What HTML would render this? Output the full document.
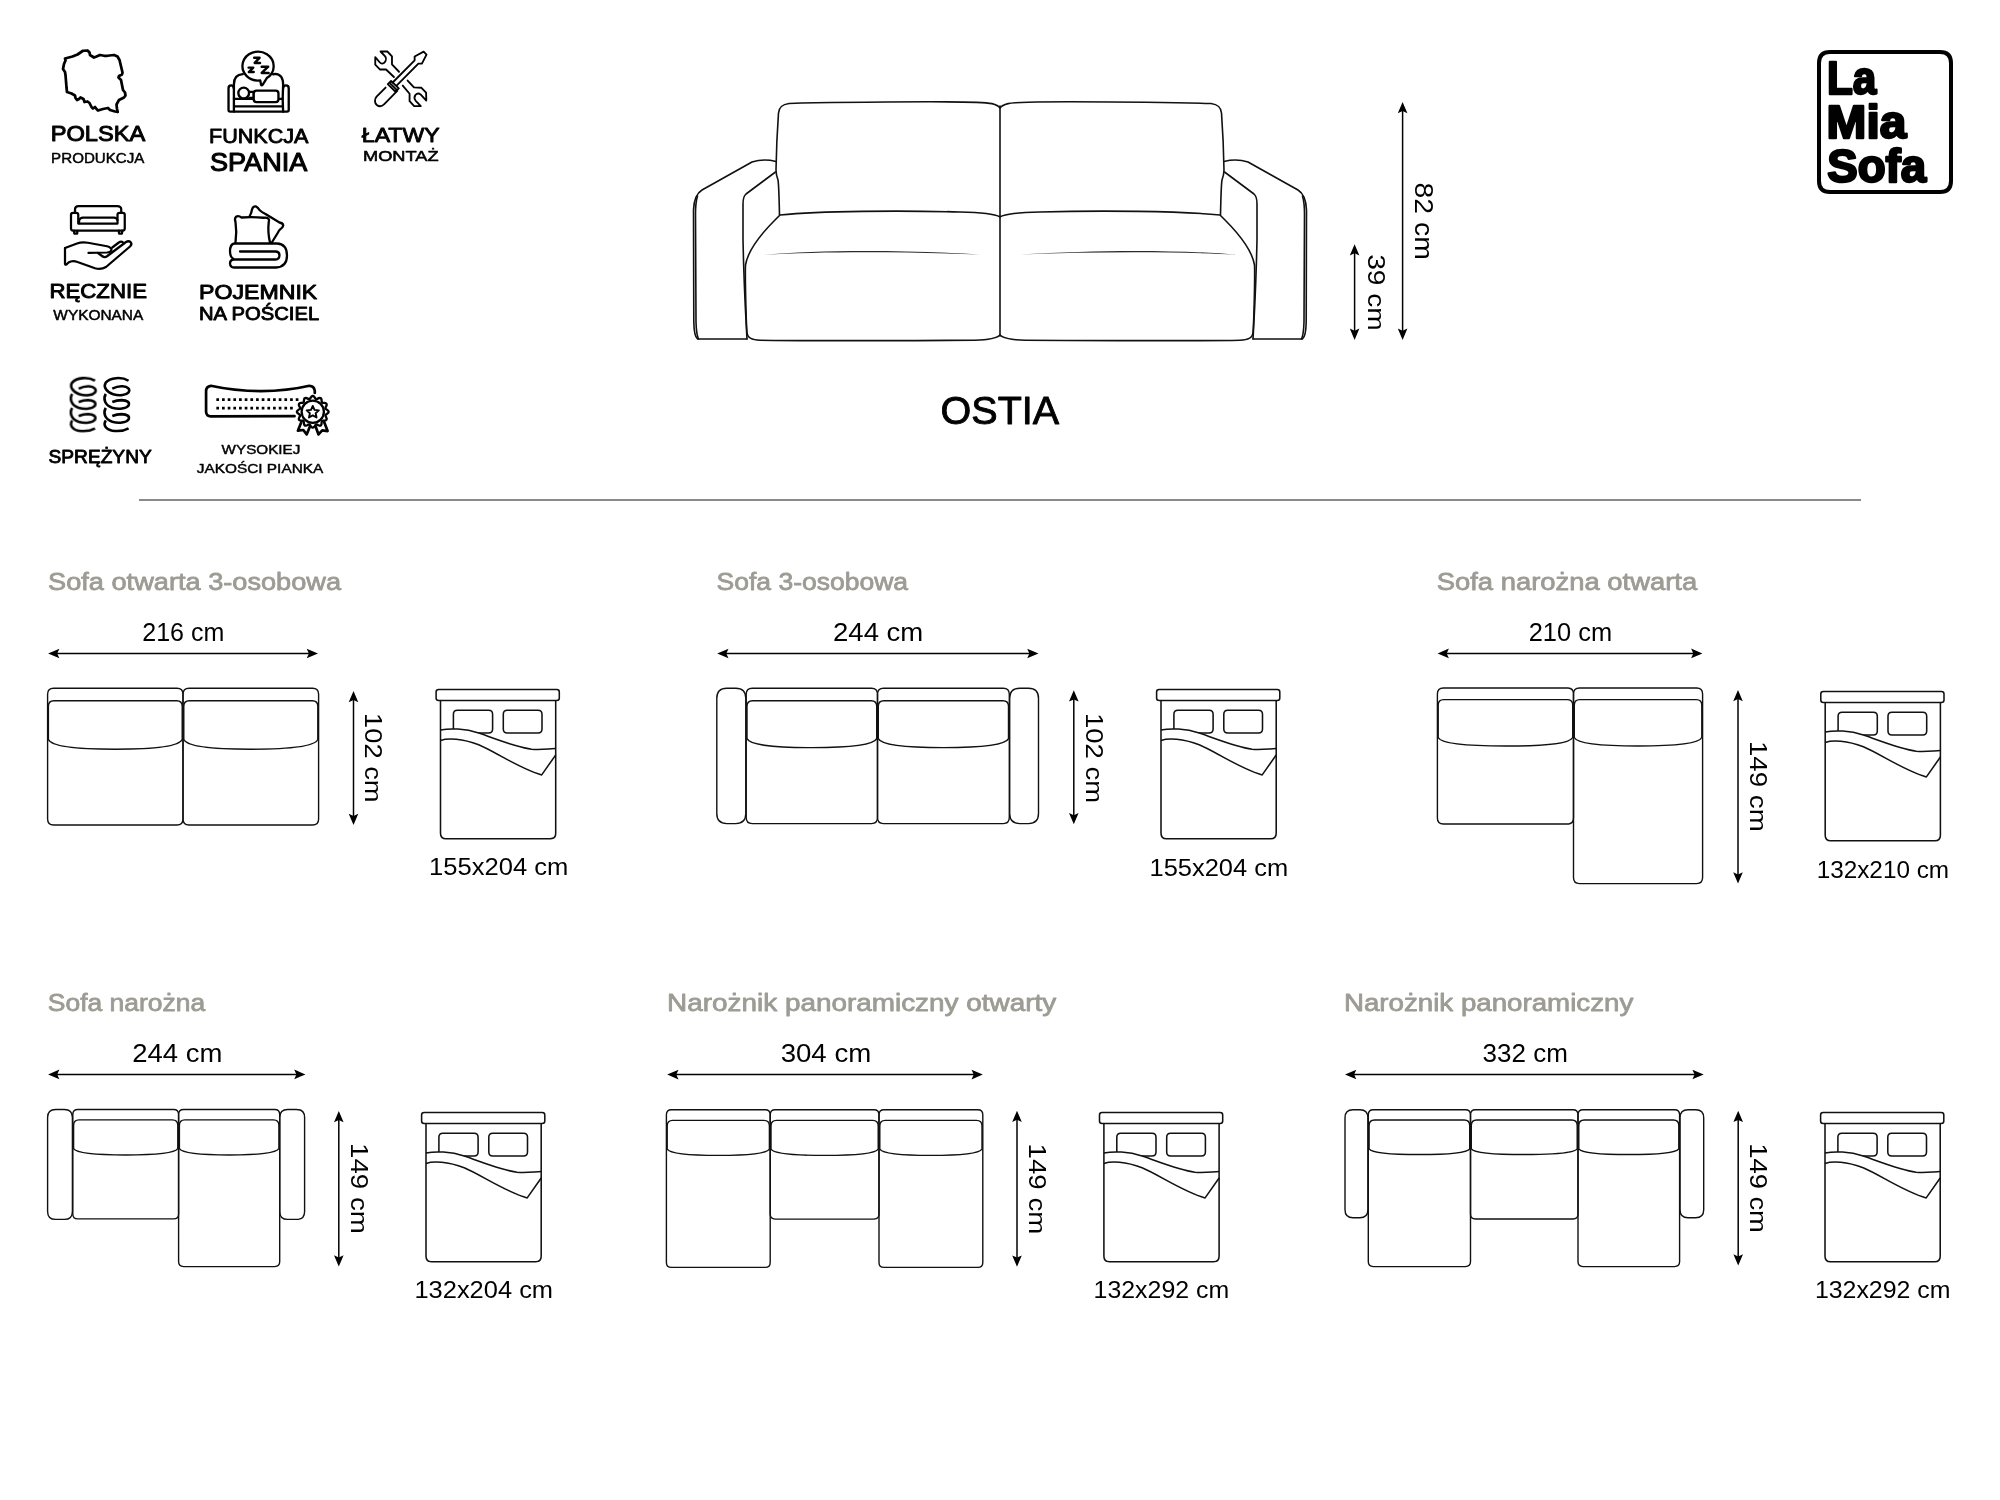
<!DOCTYPE html>
<html><head><meta charset="utf-8"><style>
html,body{margin:0;padding:0;background:#fff;width:2000px;height:1500px;overflow:hidden}
svg{display:block}
text{-webkit-font-smoothing:antialiased}
.g{will-change:transform}
text{font-family:"Liberation Sans",sans-serif}
</style></head><body>
<svg width="2000" height="1500" viewBox="0 0 2000 1500">
<rect width="2000" height="1500" fill="#fff"/>
<g style="opacity:0.999">
<line x1="139" y1="500" x2="1861" y2="500" stroke="#8a8a8a" stroke-width="2"/>
<text x="48.07" y="589.80" font-size="24.709" font-weight="normal" fill="#9c9c94" stroke="#9c9c94" stroke-width="0.80" stroke-linejoin="round" textLength="293.03" lengthAdjust="spacingAndGlyphs">Sofa otwarta 3-osobowa</text>
<text x="716.60" y="590.00" font-size="24.709" font-weight="normal" fill="#9c9c94" stroke="#9c9c94" stroke-width="0.80" stroke-linejoin="round" textLength="191.50" lengthAdjust="spacingAndGlyphs">Sofa 3-osobowa</text>
<text x="1436.66" y="590.00" font-size="24.709" font-weight="normal" fill="#9c9c94" stroke="#9c9c94" stroke-width="0.80" stroke-linejoin="round" textLength="260.54" lengthAdjust="spacingAndGlyphs">Sofa narożna otwarta</text>
<text x="47.80" y="1011.40" font-size="24.709" font-weight="normal" fill="#9c9c94" stroke="#9c9c94" stroke-width="0.80" stroke-linejoin="round" textLength="157.30" lengthAdjust="spacingAndGlyphs">Sofa narożna</text>
<text x="667.11" y="1011.40" font-size="24.709" font-weight="normal" fill="#9c9c94" stroke="#9c9c94" stroke-width="0.80" stroke-linejoin="round" textLength="389.04" lengthAdjust="spacingAndGlyphs">Narożnik panoramiczny otwarty</text>
<text x="1343.93" y="1011.00" font-size="24.709" font-weight="normal" fill="#9c9c94" stroke="#9c9c94" stroke-width="0.80" stroke-linejoin="round" textLength="289.33" lengthAdjust="spacingAndGlyphs">Narożnik panoramiczny</text>
<text x="142.24" y="641.40" font-size="25.872" font-weight="normal" fill="#000" textLength="82.11" lengthAdjust="spacingAndGlyphs">216 cm</text>
<text x="833.02" y="641.20" font-size="25.872" font-weight="normal" fill="#000" textLength="90.30" lengthAdjust="spacingAndGlyphs">244 cm</text>
<text x="1528.72" y="641.40" font-size="25.872" font-weight="normal" fill="#000" textLength="83.35" lengthAdjust="spacingAndGlyphs">210 cm</text>
<text x="132.22" y="1061.90" font-size="25.872" font-weight="normal" fill="#000" textLength="90.09" lengthAdjust="spacingAndGlyphs">244 cm</text>
<text x="780.65" y="1061.70" font-size="25.872" font-weight="normal" fill="#000" textLength="90.57" lengthAdjust="spacingAndGlyphs">304 cm</text>
<text x="1482.61" y="1061.90" font-size="25.872" font-weight="normal" fill="#000" textLength="85.31" lengthAdjust="spacingAndGlyphs">332 cm</text>
<line x1="54.1" y1="653.5" x2="312" y2="653.5" stroke="#000" stroke-width="1.5"/>
<path d="M48.1,653.5 L59.4,648.7 L57.2,653.5 L59.4,658.3 Z M318,653.5 L306.7,658.3 L308.9,653.5 L306.7,648.7 Z" fill="#000"/>
<line x1="723.2" y1="653.5" x2="1032.5" y2="653.5" stroke="#000" stroke-width="1.5"/>
<path d="M717.2,653.5 L728.5,648.7 L726.3,653.5 L728.5,658.3 Z M1038.5,653.5 L1027.2,658.3 L1029.4,653.5 L1027.2,648.7 Z" fill="#000"/>
<line x1="1443.6" y1="653.4" x2="1696.4" y2="653.4" stroke="#000" stroke-width="1.5"/>
<path d="M1437.6,653.4 L1448.9,648.6 L1446.7,653.4 L1448.9,658.2 Z M1702.4,653.4 L1691.1,658.2 L1693.3,653.4 L1691.1,648.6 Z" fill="#000"/>
<line x1="54.1" y1="1074.4" x2="299.5" y2="1074.4" stroke="#000" stroke-width="1.5"/>
<path d="M48.1,1074.4 L59.4,1069.6 L57.2,1074.4 L59.4,1079.2 Z M305.5,1074.4 L294.2,1079.2 L296.4,1074.4 L294.2,1069.6 Z" fill="#000"/>
<line x1="673.2" y1="1074.6" x2="976.8" y2="1074.6" stroke="#000" stroke-width="1.5"/>
<path d="M667.2,1074.6 L678.5,1069.8 L676.3,1074.6 L678.5,1079.4 Z M982.8,1074.6 L971.5,1079.4 L973.7,1074.6 L971.5,1069.8 Z" fill="#000"/>
<line x1="1351" y1="1074.5" x2="1697.7" y2="1074.5" stroke="#000" stroke-width="1.5"/>
<path d="M1345,1074.5 L1356.3,1069.7 L1354.1,1074.5 L1356.3,1079.3 Z M1703.7,1074.5 L1692.4,1079.3 L1694.6,1074.5 L1692.4,1069.7 Z" fill="#000"/>
<line x1="353.5" y1="696.9" x2="353.5" y2="819" stroke="#000" stroke-width="1.5"/>
<path d="M353.5,690.9 L358.3,702.2 L353.5,700 L348.7,702.2 Z M353.5,825 L348.7,813.7 L353.5,815.9 L358.3,813.7 Z" fill="#000"/>
<line x1="1073.8" y1="696.3" x2="1073.8" y2="818.3" stroke="#000" stroke-width="1.5"/>
<path d="M1073.8,690.3 L1078.6,701.6 L1073.8,699.4 L1069,701.6 Z M1073.8,824.3 L1069,813 L1073.8,815.2 L1078.6,813 Z" fill="#000"/>
<line x1="1738" y1="696" x2="1738" y2="877.6" stroke="#000" stroke-width="1.5"/>
<path d="M1738,690 L1742.8,701.3 L1738,699.1 L1733.2,701.3 Z M1738,883.6 L1733.2,872.3 L1738,874.5 L1742.8,872.3 Z" fill="#000"/>
<line x1="338.8" y1="1116.9" x2="338.8" y2="1260.6" stroke="#000" stroke-width="1.5"/>
<path d="M338.8,1110.9 L343.6,1122.2 L338.8,1120 L334,1122.2 Z M338.8,1266.6 L334,1255.3 L338.8,1257.5 L343.6,1255.3 Z" fill="#000"/>
<line x1="1017" y1="1116.7" x2="1017" y2="1260.7" stroke="#000" stroke-width="1.5"/>
<path d="M1017,1110.7 L1021.8,1122 L1017,1119.8 L1012.2,1122 Z M1017,1266.7 L1012.2,1255.4 L1017,1257.6 L1021.8,1255.4 Z" fill="#000"/>
<line x1="1738.2" y1="1116.8" x2="1738.2" y2="1259.6" stroke="#000" stroke-width="1.5"/>
<path d="M1738.2,1110.8 L1743,1122.1 L1738.2,1119.9 L1733.4,1122.1 Z M1738.2,1265.6 L1733.4,1254.3 L1738.2,1256.5 L1743,1254.3 Z" fill="#000"/>
<text transform="translate(364.90,715.20) rotate(90)" x="-2.08" y="0" font-size="24.709" font-weight="normal" fill="#000" textLength="89.37" lengthAdjust="spacingAndGlyphs">102 cm</text>
<text transform="translate(1086.00,715.00) rotate(90)" x="-2.09" y="0" font-size="24.709" font-weight="normal" fill="#000" textLength="90.10" lengthAdjust="spacingAndGlyphs">102 cm</text>
<text transform="translate(1750.00,743.00) rotate(90)" x="-2.11" y="0" font-size="24.709" font-weight="normal" fill="#000" textLength="90.94" lengthAdjust="spacingAndGlyphs">149 cm</text>
<text transform="translate(350.50,1145.10) rotate(90)" x="-2.11" y="0" font-size="24.709" font-weight="normal" fill="#000" textLength="90.84" lengthAdjust="spacingAndGlyphs">149 cm</text>
<text transform="translate(1029.00,1145.60) rotate(90)" x="-2.11" y="0" font-size="24.709" font-weight="normal" fill="#000" textLength="90.84" lengthAdjust="spacingAndGlyphs">149 cm</text>
<text transform="translate(1749.70,1145.30) rotate(90)" x="-2.08" y="0" font-size="24.709" font-weight="normal" fill="#000" textLength="89.69" lengthAdjust="spacingAndGlyphs">149 cm</text>
<path d="M53.6,688.2 L177,688.2 Q183,688.2 183,694.2 L183,819 Q183,825 177,825 L53.6,825 Q47.6,825 47.6,819 L47.6,694.2 Q47.6,688.2 53.6,688.2 Z" fill="none" stroke="#111" stroke-width="1.4"/>
<path d="M48.4,739.5 L48.4,706.3 Q48.4,700.8 53.9,700.8 L176.7,700.8 Q182.2,700.8 182.2,706.3 L182.2,739.5 C179.2,746.77 155.44,749.2 115.3,749.2 C75.16,749.2 51.4,746.77 48.4,739.5 Z" fill="none" stroke="#111" stroke-width="1.4"/>
<path d="M189,688.2 L312.6,688.2 Q318.6,688.2 318.6,694.2 L318.6,819 Q318.6,825 312.6,825 L189,825 Q183,825 183,819 L183,694.2 Q183,688.2 189,688.2 Z" fill="none" stroke="#111" stroke-width="1.4"/>
<path d="M183.8,739.5 L183.8,706.3 Q183.8,700.8 189.3,700.8 L312.3,700.8 Q317.8,700.8 317.8,706.3 L317.8,739.5 C314.8,746.77 291,749.2 250.8,749.2 C210.6,749.2 186.8,746.77 183.8,739.5 Z" fill="none" stroke="#111" stroke-width="1.4"/>
<path d="M726.8,688.2 L735.8,688.2 Q745.8,688.2 745.8,698.2 L745.8,813.6 Q745.8,823.6 735.8,823.6 L726.8,823.6 Q716.8,823.6 716.8,813.6 L716.8,698.2 Q716.8,688.2 726.8,688.2 Z" fill="none" stroke="#111" stroke-width="1.4"/>
<path d="M752.2,688.2 L871.5,688.2 Q877.5,688.2 877.5,694.2 L877.5,817.6 Q877.5,823.6 871.5,823.6 L752.2,823.6 Q746.2,823.6 746.2,817.6 L746.2,694.2 Q746.2,688.2 752.2,688.2 Z" fill="none" stroke="#111" stroke-width="1.4"/>
<path d="M747,738.6 L747,706.3 Q747,700.8 752.5,700.8 L871.2,700.8 Q876.7,700.8 876.7,706.3 L876.7,738.6 C873.7,745.35 850.76,747.6 811.85,747.6 C772.94,747.6 750,745.35 747,738.6 Z" fill="none" stroke="#111" stroke-width="1.4"/>
<path d="M883.5,688.2 L1003.3,688.2 Q1009.3,688.2 1009.3,694.2 L1009.3,817.6 Q1009.3,823.6 1003.3,823.6 L883.5,823.6 Q877.5,823.6 877.5,817.6 L877.5,694.2 Q877.5,688.2 883.5,688.2 Z" fill="none" stroke="#111" stroke-width="1.4"/>
<path d="M878.3,738.6 L878.3,706.3 Q878.3,700.8 883.8,700.8 L1003,700.8 Q1008.5,700.8 1008.5,706.3 L1008.5,738.6 C1005.5,745.35 982.46,747.6 943.4,747.6 C904.34,747.6 881.3,745.35 878.3,738.6 Z" fill="none" stroke="#111" stroke-width="1.4"/>
<path d="M1019.7,688.2 L1028.5,688.2 Q1038.5,688.2 1038.5,698.2 L1038.5,813.6 Q1038.5,823.6 1028.5,823.6 L1019.7,823.6 Q1009.7,823.6 1009.7,813.6 L1009.7,698.2 Q1009.7,688.2 1019.7,688.2 Z" fill="none" stroke="#111" stroke-width="1.4"/>
<path d="M1443.4,688 L1567.5,688 Q1573.5,688 1573.5,694 L1573.5,818 Q1573.5,824 1567.5,824 L1443.4,824 Q1437.4,824 1437.4,818 L1437.4,694 Q1437.4,688 1443.4,688 Z" fill="none" stroke="#111" stroke-width="1.4"/>
<path d="M1438.2,737.5 L1438.2,705.1 Q1438.2,699.6 1443.7,699.6 L1567.2,699.6 Q1572.7,699.6 1572.7,705.1 L1572.7,737.5 C1569.7,743.88 1545.8,746 1505.45,746 C1465.1,746 1441.2,743.88 1438.2,737.5 Z" fill="none" stroke="#111" stroke-width="1.4"/>
<path d="M1579.5,688 L1696.6,688 Q1702.6,688 1702.6,694 L1702.6,877.6 Q1702.6,883.6 1696.6,883.6 L1579.5,883.6 Q1573.5,883.6 1573.5,877.6 L1573.5,694 Q1573.5,688 1579.5,688 Z" fill="none" stroke="#111" stroke-width="1.4"/>
<path d="M1574.3,737.5 L1574.3,705.1 Q1574.3,699.6 1579.8,699.6 L1696.3,699.6 Q1701.8,699.6 1701.8,705.1 L1701.8,737.5 C1698.8,743.88 1676.3,746 1638.05,746 C1599.8,746 1577.3,743.88 1574.3,737.5 Z" fill="none" stroke="#111" stroke-width="1.4"/>
<path d="M55.6,1109.5 L64.4,1109.5 Q72.4,1109.5 72.4,1117.5 L72.4,1211.4 Q72.4,1219.4 64.4,1219.4 L55.6,1219.4 Q47.6,1219.4 47.6,1211.4 L47.6,1117.5 Q47.6,1109.5 55.6,1109.5 Z" fill="none" stroke="#111" stroke-width="1.4"/>
<path d="M77.8,1109.5 L173.6,1109.5 Q178.6,1109.5 178.6,1114.5 L178.6,1213.9 Q178.6,1218.9 173.6,1218.9 L77.8,1218.9 Q72.8,1218.9 72.8,1213.9 L72.8,1114.5 Q72.8,1109.5 77.8,1109.5 Z" fill="none" stroke="#111" stroke-width="1.4"/>
<path d="M73.6,1148.7 L73.6,1125.4 Q73.6,1119.9 79.1,1119.9 L172.3,1119.9 Q177.8,1119.9 177.8,1125.4 L177.8,1148.7 C174.8,1153.42 156.96,1155 125.7,1155 C94.44,1155 76.6,1153.42 73.6,1148.7 Z" fill="none" stroke="#111" stroke-width="1.4"/>
<path d="M183.6,1109.5 L274.7,1109.5 Q279.7,1109.5 279.7,1114.5 L279.7,1261.6 Q279.7,1266.6 274.7,1266.6 L183.6,1266.6 Q178.6,1266.6 178.6,1261.6 L178.6,1114.5 Q178.6,1109.5 183.6,1109.5 Z" fill="none" stroke="#111" stroke-width="1.4"/>
<path d="M179.4,1148.7 L179.4,1125.4 Q179.4,1119.9 184.9,1119.9 L273.4,1119.9 Q278.9,1119.9 278.9,1125.4 L278.9,1148.7 C275.9,1153.42 259,1155 229.15,1155 C199.3,1155 182.4,1153.42 179.4,1148.7 Z" fill="none" stroke="#111" stroke-width="1.4"/>
<path d="M287.7,1109.5 L296.6,1109.5 Q304.6,1109.5 304.6,1117.5 L304.6,1211.4 Q304.6,1219.4 296.6,1219.4 L287.7,1219.4 Q279.7,1219.4 279.7,1211.4 L279.7,1117.5 Q279.7,1109.5 287.7,1109.5 Z" fill="none" stroke="#111" stroke-width="1.4"/>
<path d="M671.4,1109.7 L765.2,1109.7 Q770.2,1109.7 770.2,1114.7 L770.2,1262.4 Q770.2,1267.4 765.2,1267.4 L671.4,1267.4 Q666.4,1267.4 666.4,1262.4 L666.4,1114.7 Q666.4,1109.7 671.4,1109.7 Z" fill="none" stroke="#111" stroke-width="1.4"/>
<path d="M667.2,1149.1 L667.2,1125.9 Q667.2,1120.4 672.7,1120.4 L763.9,1120.4 Q769.4,1120.4 769.4,1125.9 L769.4,1149.1 C766.4,1153.83 748.96,1155.4 718.3,1155.4 C687.64,1155.4 670.2,1153.83 667.2,1149.1 Z" fill="none" stroke="#111" stroke-width="1.4"/>
<path d="M775.2,1109.7 L874,1109.7 Q879,1109.7 879,1114.7 L879,1214.1 Q879,1219.1 874,1219.1 L775.2,1219.1 Q770.2,1219.1 770.2,1214.1 L770.2,1114.7 Q770.2,1109.7 775.2,1109.7 Z" fill="none" stroke="#111" stroke-width="1.4"/>
<path d="M771,1149.1 L771,1125.9 Q771,1120.4 776.5,1120.4 L872.7,1120.4 Q878.2,1120.4 878.2,1125.9 L878.2,1149.1 C875.2,1153.83 856.76,1155.4 824.6,1155.4 C792.44,1155.4 774,1153.83 771,1149.1 Z" fill="none" stroke="#111" stroke-width="1.4"/>
<path d="M884,1109.7 L977.8,1109.7 Q982.8,1109.7 982.8,1114.7 L982.8,1262.4 Q982.8,1267.4 977.8,1267.4 L884,1267.4 Q879,1267.4 879,1262.4 L879,1114.7 Q879,1109.7 884,1109.7 Z" fill="none" stroke="#111" stroke-width="1.4"/>
<path d="M879.8,1149.1 L879.8,1125.9 Q879.8,1120.4 885.3,1120.4 L976.5,1120.4 Q982,1120.4 982,1125.9 L982,1149.1 C979,1153.83 961.56,1155.4 930.9,1155.4 C900.24,1155.4 882.8,1153.83 879.8,1149.1 Z" fill="none" stroke="#111" stroke-width="1.4"/>
<path d="M1353,1109.7 L1359.9,1109.7 Q1367.9,1109.7 1367.9,1117.7 L1367.9,1209.8 Q1367.9,1217.8 1359.9,1217.8 L1353,1217.8 Q1345,1217.8 1345,1209.8 L1345,1117.7 Q1345,1109.7 1353,1109.7 Z" fill="none" stroke="#111" stroke-width="1.4"/>
<path d="M1373.3,1109.7 L1465.5,1109.7 Q1470.5,1109.7 1470.5,1114.7 L1470.5,1261.6 Q1470.5,1266.6 1465.5,1266.6 L1373.3,1266.6 Q1368.3,1266.6 1368.3,1261.6 L1368.3,1114.7 Q1368.3,1109.7 1373.3,1109.7 Z" fill="none" stroke="#111" stroke-width="1.4"/>
<path d="M1369.1,1148.8 L1369.1,1125.5 Q1369.1,1120 1374.6,1120 L1464.2,1120 Q1469.7,1120 1469.7,1125.5 L1469.7,1148.8 C1466.7,1153.08 1449.58,1154.5 1419.4,1154.5 C1389.22,1154.5 1372.1,1153.08 1369.1,1148.8 Z" fill="none" stroke="#111" stroke-width="1.4"/>
<path d="M1475.5,1109.7 L1573,1109.7 Q1578,1109.7 1578,1114.7 L1578,1214 Q1578,1219 1573,1219 L1475.5,1219 Q1470.5,1219 1470.5,1214 L1470.5,1114.7 Q1470.5,1109.7 1475.5,1109.7 Z" fill="none" stroke="#111" stroke-width="1.4"/>
<path d="M1471.3,1148.8 L1471.3,1125.5 Q1471.3,1120 1476.8,1120 L1571.7,1120 Q1577.2,1120 1577.2,1125.5 L1577.2,1148.8 C1574.2,1153.08 1556.02,1154.5 1524.25,1154.5 C1492.48,1154.5 1474.3,1153.08 1471.3,1148.8 Z" fill="none" stroke="#111" stroke-width="1.4"/>
<path d="M1583,1109.7 L1674.6,1109.7 Q1679.6,1109.7 1679.6,1114.7 L1679.6,1261.6 Q1679.6,1266.6 1674.6,1266.6 L1583,1266.6 Q1578,1266.6 1578,1261.6 L1578,1114.7 Q1578,1109.7 1583,1109.7 Z" fill="none" stroke="#111" stroke-width="1.4"/>
<path d="M1578.8,1148.8 L1578.8,1125.5 Q1578.8,1120 1584.3,1120 L1673.3,1120 Q1678.8,1120 1678.8,1125.5 L1678.8,1148.8 C1675.8,1153.08 1658.8,1154.5 1628.8,1154.5 C1598.8,1154.5 1581.8,1153.08 1578.8,1148.8 Z" fill="none" stroke="#111" stroke-width="1.4"/>
<path d="M1688,1109.7 L1695.7,1109.7 Q1703.7,1109.7 1703.7,1117.7 L1703.7,1209.8 Q1703.7,1217.8 1695.7,1217.8 L1688,1217.8 Q1680,1217.8 1680,1209.8 L1680,1117.7 Q1680,1109.7 1688,1109.7 Z" fill="none" stroke="#111" stroke-width="1.4"/>
<g transform="translate(0,0)" fill="none" stroke="#111" stroke-width="1.55" stroke-linejoin="round">
<path d="M438.6,689.5 L556.8,689.5 Q559.3,689.5 559.3,692 L559.3,698 Q559.3,700.5 556.8,700.5 L438.6,700.5 Q436.1,700.5 436.1,698 L436.1,692 Q436.1,689.5 438.6,689.5 Z"/>
<path d="M457.4,710.3 L488.6,710.3 Q492.6,710.3 492.6,714.3 L492.6,729 Q492.6,733 488.6,733 L457.4,733 Q453.4,733 453.4,729 L453.4,714.3 Q453.4,710.3 457.4,710.3 Z"/>
<path d="M507.3,710.3 L538,710.3 Q542,710.3 542,714.3 L542,729 Q542,733 538,733 L507.3,733 Q503.3,733 503.3,729 L503.3,714.3 Q503.3,710.3 507.3,710.3 Z"/>
<path d="M440.5,730.1 C450,728 465,728.5 478.7,733.1 C495,738.5 515,747 531.5,749.2 C541,750 548,748.8 555.7,748.5 L555.7,830 L440.5,830 Z" fill="#fff" stroke="none"/>
<path d="M440.5,700.5 L440.5,833.2 Q440.5,838.7 446,838.7 L550.2,838.7 Q555.7,838.7 555.7,833.2 L555.7,700.5"/>
<path d="M440.5,730.1 C450,728 465,728.5 478.7,733.1 C495,738.5 515,747 531.5,749.2 C541,750 548,748.8 555.7,748.5"/>
<path d="M440.5,740.4 C448,738 462,738.5 478.7,744.8 C495,751.5 520,769 541.7,774.9 L555.7,755"/>
</g>
<text x="429.05" y="875.30" font-size="23.256" font-weight="normal" fill="#000" textLength="139.33" lengthAdjust="spacingAndGlyphs">155x204 cm</text>
<g transform="translate(720.5,0)" fill="none" stroke="#111" stroke-width="1.55" stroke-linejoin="round">
<path d="M438.6,689.5 L556.8,689.5 Q559.3,689.5 559.3,692 L559.3,698 Q559.3,700.5 556.8,700.5 L438.6,700.5 Q436.1,700.5 436.1,698 L436.1,692 Q436.1,689.5 438.6,689.5 Z"/>
<path d="M457.4,710.3 L488.6,710.3 Q492.6,710.3 492.6,714.3 L492.6,729 Q492.6,733 488.6,733 L457.4,733 Q453.4,733 453.4,729 L453.4,714.3 Q453.4,710.3 457.4,710.3 Z"/>
<path d="M507.3,710.3 L538,710.3 Q542,710.3 542,714.3 L542,729 Q542,733 538,733 L507.3,733 Q503.3,733 503.3,729 L503.3,714.3 Q503.3,710.3 507.3,710.3 Z"/>
<path d="M440.5,730.1 C450,728 465,728.5 478.7,733.1 C495,738.5 515,747 531.5,749.2 C541,750 548,748.8 555.7,748.5 L555.7,830 L440.5,830 Z" fill="#fff" stroke="none"/>
<path d="M440.5,700.5 L440.5,833.2 Q440.5,838.7 446,838.7 L550.2,838.7 Q555.7,838.7 555.7,833.2 L555.7,700.5"/>
<path d="M440.5,730.1 C450,728 465,728.5 478.7,733.1 C495,738.5 515,747 531.5,749.2 C541,750 548,748.8 555.7,748.5"/>
<path d="M440.5,740.4 C448,738 462,738.5 478.7,744.8 C495,751.5 520,769 541.7,774.9 L555.7,755"/>
</g>
<text x="1149.56" y="875.50" font-size="23.256" font-weight="normal" fill="#000" textLength="138.62" lengthAdjust="spacingAndGlyphs">155x204 cm</text>
<g transform="translate(1384.7,2)" fill="none" stroke="#111" stroke-width="1.55" stroke-linejoin="round">
<path d="M438.6,689.5 L556.8,689.5 Q559.3,689.5 559.3,692 L559.3,698 Q559.3,700.5 556.8,700.5 L438.6,700.5 Q436.1,700.5 436.1,698 L436.1,692 Q436.1,689.5 438.6,689.5 Z"/>
<path d="M457.4,710.3 L488.6,710.3 Q492.6,710.3 492.6,714.3 L492.6,729 Q492.6,733 488.6,733 L457.4,733 Q453.4,733 453.4,729 L453.4,714.3 Q453.4,710.3 457.4,710.3 Z"/>
<path d="M507.3,710.3 L538,710.3 Q542,710.3 542,714.3 L542,729 Q542,733 538,733 L507.3,733 Q503.3,733 503.3,729 L503.3,714.3 Q503.3,710.3 507.3,710.3 Z"/>
<path d="M440.5,730.1 C450,728 465,728.5 478.7,733.1 C495,738.5 515,747 531.5,749.2 C541,750 548,748.8 555.7,748.5 L555.7,830 L440.5,830 Z" fill="#fff" stroke="none"/>
<path d="M440.5,700.5 L440.5,833.2 Q440.5,838.7 446,838.7 L550.2,838.7 Q555.7,838.7 555.7,833.2 L555.7,700.5"/>
<path d="M440.5,730.1 C450,728 465,728.5 478.7,733.1 C495,738.5 515,747 531.5,749.2 C541,750 548,748.8 555.7,748.5"/>
<path d="M440.5,740.4 C448,738 462,738.5 478.7,744.8 C495,751.5 520,769 541.7,774.9 L555.7,755"/>
</g>
<text x="1816.65" y="877.50" font-size="23.256" font-weight="normal" fill="#000" textLength="132.45" lengthAdjust="spacingAndGlyphs">132x210 cm</text>
<g transform="translate(-14.5,423)" fill="none" stroke="#111" stroke-width="1.55" stroke-linejoin="round">
<path d="M438.6,689.5 L556.8,689.5 Q559.3,689.5 559.3,692 L559.3,698 Q559.3,700.5 556.8,700.5 L438.6,700.5 Q436.1,700.5 436.1,698 L436.1,692 Q436.1,689.5 438.6,689.5 Z"/>
<path d="M457.4,710.3 L488.6,710.3 Q492.6,710.3 492.6,714.3 L492.6,729 Q492.6,733 488.6,733 L457.4,733 Q453.4,733 453.4,729 L453.4,714.3 Q453.4,710.3 457.4,710.3 Z"/>
<path d="M507.3,710.3 L538,710.3 Q542,710.3 542,714.3 L542,729 Q542,733 538,733 L507.3,733 Q503.3,733 503.3,729 L503.3,714.3 Q503.3,710.3 507.3,710.3 Z"/>
<path d="M440.5,730.1 C450,728 465,728.5 478.7,733.1 C495,738.5 515,747 531.5,749.2 C541,750 548,748.8 555.7,748.5 L555.7,830 L440.5,830 Z" fill="#fff" stroke="none"/>
<path d="M440.5,700.5 L440.5,833.2 Q440.5,838.7 446,838.7 L550.2,838.7 Q555.7,838.7 555.7,833.2 L555.7,700.5"/>
<path d="M440.5,730.1 C450,728 465,728.5 478.7,733.1 C495,738.5 515,747 531.5,749.2 C541,750 548,748.8 555.7,748.5"/>
<path d="M440.5,740.4 C448,738 462,738.5 478.7,744.8 C495,751.5 520,769 541.7,774.9 L555.7,755"/>
</g>
<text x="414.46" y="1298.40" font-size="23.256" font-weight="normal" fill="#000" textLength="138.62" lengthAdjust="spacingAndGlyphs">132x204 cm</text>
<g transform="translate(663.4,423)" fill="none" stroke="#111" stroke-width="1.55" stroke-linejoin="round">
<path d="M438.6,689.5 L556.8,689.5 Q559.3,689.5 559.3,692 L559.3,698 Q559.3,700.5 556.8,700.5 L438.6,700.5 Q436.1,700.5 436.1,698 L436.1,692 Q436.1,689.5 438.6,689.5 Z"/>
<path d="M457.4,710.3 L488.6,710.3 Q492.6,710.3 492.6,714.3 L492.6,729 Q492.6,733 488.6,733 L457.4,733 Q453.4,733 453.4,729 L453.4,714.3 Q453.4,710.3 457.4,710.3 Z"/>
<path d="M507.3,710.3 L538,710.3 Q542,710.3 542,714.3 L542,729 Q542,733 538,733 L507.3,733 Q503.3,733 503.3,729 L503.3,714.3 Q503.3,710.3 507.3,710.3 Z"/>
<path d="M440.5,730.1 C450,728 465,728.5 478.7,733.1 C495,738.5 515,747 531.5,749.2 C541,750 548,748.8 555.7,748.5 L555.7,830 L440.5,830 Z" fill="#fff" stroke="none"/>
<path d="M440.5,700.5 L440.5,833.2 Q440.5,838.7 446,838.7 L550.2,838.7 Q555.7,838.7 555.7,833.2 L555.7,700.5"/>
<path d="M440.5,730.1 C450,728 465,728.5 478.7,733.1 C495,738.5 515,747 531.5,749.2 C541,750 548,748.8 555.7,748.5"/>
<path d="M440.5,740.4 C448,738 462,738.5 478.7,744.8 C495,751.5 520,769 541.7,774.9 L555.7,755"/>
</g>
<text x="1093.60" y="1298.40" font-size="23.256" font-weight="normal" fill="#000" textLength="135.54" lengthAdjust="spacingAndGlyphs">132x292 cm</text>
<g transform="translate(1384.5,423)" fill="none" stroke="#111" stroke-width="1.55" stroke-linejoin="round">
<path d="M438.6,689.5 L556.8,689.5 Q559.3,689.5 559.3,692 L559.3,698 Q559.3,700.5 556.8,700.5 L438.6,700.5 Q436.1,700.5 436.1,698 L436.1,692 Q436.1,689.5 438.6,689.5 Z"/>
<path d="M457.4,710.3 L488.6,710.3 Q492.6,710.3 492.6,714.3 L492.6,729 Q492.6,733 488.6,733 L457.4,733 Q453.4,733 453.4,729 L453.4,714.3 Q453.4,710.3 457.4,710.3 Z"/>
<path d="M507.3,710.3 L538,710.3 Q542,710.3 542,714.3 L542,729 Q542,733 538,733 L507.3,733 Q503.3,733 503.3,729 L503.3,714.3 Q503.3,710.3 507.3,710.3 Z"/>
<path d="M440.5,730.1 C450,728 465,728.5 478.7,733.1 C495,738.5 515,747 531.5,749.2 C541,750 548,748.8 555.7,748.5 L555.7,830 L440.5,830 Z" fill="#fff" stroke="none"/>
<path d="M440.5,700.5 L440.5,833.2 Q440.5,838.7 446,838.7 L550.2,838.7 Q555.7,838.7 555.7,833.2 L555.7,700.5"/>
<path d="M440.5,730.1 C450,728 465,728.5 478.7,733.1 C495,738.5 515,747 531.5,749.2 C541,750 548,748.8 555.7,748.5"/>
<path d="M440.5,740.4 C448,738 462,738.5 478.7,744.8 C495,751.5 520,769 541.7,774.9 L555.7,755"/>
</g>
<text x="1814.90" y="1298.30" font-size="23.256" font-weight="normal" fill="#000" textLength="135.54" lengthAdjust="spacingAndGlyphs">132x292 cm</text>
<g fill="none" stroke="#111" stroke-width="1.6" stroke-linejoin="round" stroke-linecap="round">
<path d="M776,161.5 C770,160 760,159.5 752,162 L702,190 C697,193 694,198 693.5,210 L693.8,322 C694,332 695,337 697.5,339 L747,339"/>
<path d="M697.5,196 C696,201 695.5,206 695.5,214 L696,322 C696.3,331 697,336 698.5,339"/>
<path d="M775.5,172 L746,194 C743.5,196 743,199 743,204 L743,240 C744,290 746,320 747,339"/>
<path d="M779.5,215 C779,192 778.6,183 778,180 C776.6,176 776,174 776,170 C776.5,140 778,120 778.5,113 C779,107 782,104.5 789,103.5 C820,102.6 870,102 930,101.8 C970,101.8 985,102.3 992,103.6 C996,104.6 999,106.5 1000,108"/>
<path d="M1000,216.8 C995,214.2 985,212.6 960,212 C900,210.3 820,211 780,215 L775,220 C760,235 748,250 745.5,265 C745,275 746,320 747,333 C747.5,338 752,340 760,340.2 C800,341 900,340.6 975,340.2 C990,339.8 997,338 1000,335"/>
<g transform="matrix(-1,0,0,1,2000,0)">
<path d="M776,161.5 C770,160 760,159.5 752,162 L702,190 C697,193 694,198 693.5,210 L693.8,322 C694,332 695,337 697.5,339 L747,339"/>
<path d="M697.5,196 C696,201 695.5,206 695.5,214 L696,322 C696.3,331 697,336 698.5,339"/>
<path d="M775.5,172 L746,194 C743.5,196 743,199 743,204 L743,240 C744,290 746,320 747,339"/>
<path d="M779.5,215 C779,192 778.6,183 778,180 C776.6,176 776,174 776,170 C776.5,140 778,120 778.5,113 C779,107 782,104.5 789,103.5 C820,102.6 870,102 930,101.8 C970,101.8 985,102.3 992,103.6 C996,104.6 999,106.5 1000,108"/>
<path d="M1000,216.8 C995,214.2 985,212.6 960,212 C900,210.3 820,211 780,215 L775,220 C760,235 748,250 745.5,265 C745,275 746,320 747,333 C747.5,338 752,340 760,340.2 C800,341 900,340.6 975,340.2 C990,339.8 997,338 1000,335"/>
</g>
<path d="M1000,106 L1000,336"/>
</g>
<path d="M763,254.8 C820,249.8 900,249.6 980,254.6 C900,251.4 820,251.6 763,254.8 Z" fill="#2a2a2a"/>
<path d="M1237,254.8 C1180,249.8 1100,249.6 1020,254.6 C1100,251.4 1180,251.6 1237,254.8 Z" fill="#2a2a2a"/>
<text x="940.58" y="424.15" font-size="39.390" font-weight="normal" fill="#000" stroke="#000" stroke-width="0.90" stroke-linejoin="round" textLength="118.65" lengthAdjust="spacingAndGlyphs">OSTIA</text>
<line x1="1402.6" y1="107.9" x2="1402.6" y2="333.9" stroke="#000" stroke-width="1.5"/>
<path d="M1402.6,101.9 L1407.4,113.2 L1402.6,111 L1397.8,113.2 Z M1402.6,339.9 L1397.8,328.6 L1402.6,330.8 L1407.4,328.6 Z" fill="#000"/>
<line x1="1354.6" y1="250.2" x2="1354.6" y2="333.9" stroke="#000" stroke-width="1.5"/>
<path d="M1354.6,244.2 L1359.4,255.5 L1354.6,253.3 L1349.8,255.5 Z M1354.6,339.9 L1349.8,328.6 L1354.6,330.8 L1359.4,328.6 Z" fill="#000"/>
<text transform="translate(1414.80,183.75) rotate(90)" x="-1.23" y="0" font-size="25.436" font-weight="normal" fill="#000" textLength="77.36" lengthAdjust="spacingAndGlyphs">82 cm</text>
<text transform="translate(1367.50,255.20) rotate(90)" x="-1.07" y="0" font-size="23.983" font-weight="normal" fill="#000" textLength="76.63" lengthAdjust="spacingAndGlyphs">39 cm</text>
<path d="M1830,52 L1940,52 Q1951,52 1951,63 L1951,181 Q1951,192 1940,192 L1830,192 Q1819,192 1819,181 L1819,63 Q1819,52 1830,52 Z" fill="none" stroke="#000" stroke-width="4"/>
<text x="1826.97" y="94.20" font-size="46.221" font-weight="bold" fill="#000" stroke="#000" stroke-width="2.40" stroke-linejoin="round" textLength="49.36" lengthAdjust="spacingAndGlyphs">La</text>
<text x="1826.60" y="138.00" font-size="46.221" font-weight="bold" fill="#000" stroke="#000" stroke-width="2.40" stroke-linejoin="round" textLength="79.69" lengthAdjust="spacingAndGlyphs">Mia</text>
<text x="1827.28" y="181.80" font-size="46.221" font-weight="bold" fill="#000" stroke="#000" stroke-width="2.40" stroke-linejoin="round" textLength="98.93" lengthAdjust="spacingAndGlyphs">Sofa</text>
<path d="M65,58.5 L72.5,56.5 L77.5,54.5 L83,50.75 L87.5,50.5 L89.5,52.5 L90,55 L94,57.5 L96.5,56.5 L100,55 L104,55.75 L107.5,55.75 L114,55 L117.5,56.5 L119.5,60 L122.5,72.5 L122,74.5 L119,76 L118.5,77.5 L121,80 L122,85 L123,90 L125,92.5 L125.5,95.5 L124,97.5 L119,100 L116.5,104.5 L117,109 L117.75,112 L115,111.5 L110,110 L108,108 L103,109 L98,110.5 L96.5,109 L95,107 L93,108.5 L91.5,107 L89.5,103 L87.5,101.5 L84.5,102 L83.5,99 L80.5,97.5 L79,99 L77,100 L75.5,98 L75,95.5 L71.5,93.5 L67,92 L66.5,87.5 L65.5,75 L65,72 L63,69 L64,64 L65.5,60.5 Z" fill="none" stroke="#000" stroke-width="2.75" stroke-linejoin="round"/>
<g transform="translate(222,48) scale(0.046664)" fill="none" stroke="#000" stroke-width="50" stroke-linejoin="round" stroke-linecap="round">
<path d="M960,645 A335,310 0 1 0 820,695 L838,790 Q852,812 870,788 Z"/>
<path d="M690,210 L805,210 L700,320 L815,320 M570,420 L670,420 L575,515 L680,515 M850,400 L990,400 L850,535 L1000,535" stroke-width="52"/>
<path d="M255,1090 L255,780 C255,640 330,565 445,560 M1095,565 C1110,558 1125,555 1140,555 C1250,560 1310,650 1310,790 L1300,1090"/>
<path d="M140,1330 L140,860 Q140,800 195,800 Q250,800 252,860 M1310,860 Q1312,800 1370,800 Q1430,800 1430,860 L1430,1330 Q1430,1365 1395,1365 L175,1365 Q140,1365 140,1330"/>
<path d="M255,1090 L1300,1090 M255,1250 L1300,1250 M255,1090 L255,1365 M1300,1090 L1310,1365"/>
<path d="M590,940 L680,940 L680,1070 L590,1070" fill="#fff"/>
<circle cx="465" cy="965" r="115" fill="#fff"/>
<path d="M740,915 L1150,915 Q1210,915 1210,975 L1210,1100 Q1210,1160 1150,1160 L740,1160 Q680,1160 680,1100 L680,975 Q680,915 740,915 Z" fill="#fff"/>
</g>
<g transform="translate(368,46) scale(0.043995)" fill="none" stroke="#000" stroke-width="42" stroke-linejoin="round" stroke-linecap="round">
<path d="M705,585 L545,420 L545,235 L440,125 L285,125 L390,235 C420,275 410,340 370,380 C330,410 290,400 265,370 L165,255 L165,425 L275,535 L410,535 L590,705"/>
<path d="M900,785 L1045,940 L1215,950 L1320,1060 L1325,1240 L1200,1105 C1160,1075 1110,1080 1080,1110 C1050,1150 1050,1200 1080,1240 L1200,1365 L1050,1365 L945,1255 L945,1085 L790,900"/>
<path d="M560,830 L1060,325 L1060,240 L1265,128 L1330,195 L1225,400 L1145,400 L655,895"/>
<path d="M450,868 L525,795 L700,965 L625,1040 Z M515,860 L660,1005"/>
<path d="M400,945 L195,1150 C140,1210 150,1300 200,1340 C250,1380 320,1370 370,1320 L665,1020"/>
</g>
<g transform="translate(60,200) scale(0.050000)" fill="none" stroke="#000" stroke-width="45" stroke-linejoin="round" stroke-linecap="round">
<path d="M300,250 L300,190 Q300,120 370,120 L1140,120 Q1225,120 1225,190 L1225,250"/>
<path d="M365,470 L365,295 Q365,255 325,255 L262,255 Q220,255 220,297 L220,570 Q220,610 262,610 L1255,610 Q1295,610 1295,570 L1295,297 Q1295,255 1255,255 L1190,255 Q1150,255 1150,295 L1150,470 Z"/>
<path d="M380,465 L385,400 Q400,355 460,352 L1080,352 Q1135,355 1150,400"/>
<path d="M280,615 L285,670 L345,670 L345,615 M1175,615 L1180,670 L1240,670 L1245,615"/>
<path d="M100,960 L340,870 Q430,835 560,855 L940,925 Q1030,950 1030,1000 Q1015,1045 940,1050 L570,1058"/>
<path d="M100,960 L100,1280 Q105,1300 130,1290 L170,1250 Q250,1200 350,1240 L700,1365 Q820,1400 920,1340 L1400,930 Q1450,880 1410,840 Q1370,810 1320,840 L940,1125 Q890,1160 840,1120 L760,1060"/>
<path d="M1045,950 L1170,855 Q1220,820 1255,845"/>
</g>
<g transform="translate(222,200) scale(0.050000)" fill="none" stroke="#000" stroke-width="46" stroke-linejoin="round" stroke-linecap="round">
<path d="M360,1030 L1080,1030 Q1150,1035 1150,1110 Q1145,1185 1070,1190 L240,1190 Q160,1195 160,1270 Q165,1345 240,1350 L1080,1350 Q1300,1340 1300,1110 Q1295,875 1100,870 L250,870 Q160,880 160,1030 Q165,1160 240,1180"/>
<path d="M270,850 Q300,640 270,440 Q245,370 280,335 Q330,305 390,350 Q600,330 840,355 Q890,345 930,375 Q950,400 935,440 Q910,650 960,850"/>
<path d="M550,330 Q590,260 600,190 Q620,120 680,130 Q720,150 750,200 Q790,240 870,280 L1150,450 Q1220,460 1225,510 Q1215,560 1160,590 Q1130,620 1120,650 L990,860"/>
</g>
<g transform="translate(60,370) scale(0.046664)" fill="none" stroke="#000" stroke-width="55" stroke-linejoin="round" stroke-linecap="round">
<path d="M750,230 C600,140 350,160 260,270 C200,360 280,480 420,520 C560,560 700,540 750,480 C790,420 740,360 620,350 C540,345 460,370 400,400 M260,510 C200,620 240,760 400,810 C540,850 700,830 750,760 C780,690 720,650 600,645 C520,645 460,660 400,685 M260,810 C200,920 240,1060 400,1110 C540,1150 700,1130 750,1060 C780,990 720,950 600,945 C520,945 460,960 400,985 M260,1080 C200,1180 260,1280 400,1300 C540,1320 660,1300 750,1250" stroke-linecap="butt"/>
<path d="M750,230 C600,140 350,160 260,270 C200,360 280,480 420,520 C560,560 700,540 750,480 C790,420 740,360 620,350 C540,345 460,370 400,400 M260,510 C200,620 240,760 400,810 C540,850 700,830 750,760 C780,690 720,650 600,645 C520,645 460,660 400,685 M260,810 C200,920 240,1060 400,1110 C540,1150 700,1130 750,1060 C780,990 720,950 600,945 C520,945 460,960 400,985 M260,1080 C200,1180 260,1280 400,1300 C540,1320 660,1300 750,1250" transform="translate(720,0)" stroke-linecap="butt"/>
</g>
<g transform="translate(200,375) scale(0.067522)" fill="none" stroke="#000" stroke-width="40" stroke-linejoin="round" stroke-linecap="round">
<path d="M1700,265 L1700,235 Q1690,160 1620,160 Q1300,235 900,240 Q500,235 160,160 Q90,170 90,240 L90,545 Q95,610 160,612 L1400,610"/>
<path d="M242,345 h40 v40 h-40 Z M326,345 h40 v40 h-40 Z M410,345 h40 v40 h-40 Z M494,345 h40 v40 h-40 Z M578,345 h40 v40 h-40 Z M662,345 h40 v40 h-40 Z M746,345 h40 v40 h-40 Z M830,345 h40 v40 h-40 Z M914,345 h40 v40 h-40 Z M998,345 h40 v40 h-40 Z M1082,345 h40 v40 h-40 Z M1166,345 h40 v40 h-40 Z M1250,345 h40 v40 h-40 Z M1334,345 h40 v40 h-40 Z M1418,345 h40 v40 h-40 Z M242,470 h40 v40 h-40 Z M326,470 h40 v40 h-40 Z M410,470 h40 v40 h-40 Z M494,470 h40 v40 h-40 Z M578,470 h40 v40 h-40 Z M662,470 h40 v40 h-40 Z M746,470 h40 v40 h-40 Z M830,470 h40 v40 h-40 Z M914,470 h40 v40 h-40 Z M998,470 h40 v40 h-40 Z M1082,470 h40 v40 h-40 Z M1166,470 h40 v40 h-40 Z M1250,470 h40 v40 h-40 Z M1334,470 h40 v40 h-40 Z" fill="#000" stroke="none"/>
<path d="M1500,700 L1450,825 L1530,815 L1580,880 L1625,770 M1840,700 L1890,830 L1810,820 L1755,880 L1715,770"/>
<path d="M1670,310 L1685,316 L1698,332 L1709,348 L1720,357 L1735,355 L1752,346 L1771,339 L1788,341 L1797,354 L1801,374 L1802,394 L1808,407 L1821,413 L1841,414 L1861,418 L1874,428 L1876,444 L1869,463 L1860,480 L1858,495 L1867,506 L1883,517 L1899,530 L1905,545 L1899,560 L1883,573 L1867,584 L1858,595 L1860,610 L1869,627 L1876,646 L1874,662 L1861,672 L1841,676 L1821,677 L1808,683 L1802,696 L1801,716 L1797,736 L1788,749 L1771,751 L1752,744 L1735,735 L1720,733 L1709,742 L1698,758 L1685,774 L1670,780 L1655,774 L1642,758 L1631,742 L1620,733 L1605,735 L1588,744 L1569,751 L1552,749 L1543,736 L1539,716 L1538,696 L1532,683 L1519,677 L1499,676 L1479,672 L1466,663 L1464,646 L1471,627 L1480,610 L1482,595 L1473,584 L1457,573 L1441,560 L1435,545 L1441,530 L1457,517 L1473,506 L1482,495 L1480,480 L1471,463 L1464,444 L1466,428 L1479,418 L1499,414 L1519,413 L1532,407 L1538,394 L1539,374 L1543,354 L1552,341 L1569,339 L1588,346 L1605,355 L1620,357 L1631,348 L1642,332 L1655,316 Z" fill="#fff" stroke-width="34"/>
<circle cx="1670" cy="545" r="165" stroke-width="34"/>
<path d="M1670,458 L1696,517 L1760,524 L1713,567 L1726,630 L1670,598 L1614,630 L1627,567 L1580,524 L1644,517 Z" stroke-width="28"/>
</g>
<text x="50.73" y="140.89" font-size="22.922" font-weight="normal" fill="#000" stroke="#000" stroke-width="1.03" stroke-linejoin="round" textLength="94.50" lengthAdjust="spacingAndGlyphs">POLSKA</text>
<text x="51.13" y="162.58" font-size="14.099" font-weight="normal" fill="#000" stroke="#000" stroke-width="0.45" stroke-linejoin="round" textLength="93.27" lengthAdjust="spacingAndGlyphs">PRODUKCJA</text>
<text x="208.96" y="143.47" font-size="20.538" font-weight="normal" fill="#000" stroke="#000" stroke-width="0.87" stroke-linejoin="round" textLength="99.54" lengthAdjust="spacingAndGlyphs">FUNKCJA</text>
<text x="210.05" y="171.05" font-size="25.436" font-weight="normal" fill="#000" stroke="#000" stroke-width="1.10" stroke-linejoin="round" textLength="97.15" lengthAdjust="spacingAndGlyphs">SPANIA</text>
<text x="361.80" y="142.27" font-size="19.549" font-weight="normal" fill="#000" stroke="#000" stroke-width="0.85" stroke-linejoin="round" textLength="77.87" lengthAdjust="spacingAndGlyphs">ŁATWY</text>
<text x="363.02" y="161.31" font-size="15.145" font-weight="normal" fill="#000" stroke="#000" stroke-width="0.58" stroke-linejoin="round" textLength="75.55" lengthAdjust="spacingAndGlyphs">MONTAŻ</text>
<text x="49.45" y="298.02" font-size="20.422" font-weight="normal" fill="#000" stroke="#000" stroke-width="0.95" stroke-linejoin="round" textLength="97.53" lengthAdjust="spacingAndGlyphs">RĘCZNIE</text>
<text x="53.37" y="320.46" font-size="13.837" font-weight="normal" fill="#000" stroke="#000" stroke-width="0.48" stroke-linejoin="round" textLength="89.92" lengthAdjust="spacingAndGlyphs">WYKONANA</text>
<text x="199.08" y="298.77" font-size="20.422" font-weight="normal" fill="#000" stroke="#000" stroke-width="0.95" stroke-linejoin="round" textLength="118.21" lengthAdjust="spacingAndGlyphs">POJEMNIK</text>
<text x="199.01" y="320.25" font-size="19.041" font-weight="normal" fill="#000" stroke="#000" stroke-width="0.90" stroke-linejoin="round" textLength="120.21" lengthAdjust="spacingAndGlyphs">NA POŚCIEL</text>
<text x="48.56" y="463.07" font-size="18.387" font-weight="normal" fill="#000" stroke="#000" stroke-width="0.85" stroke-linejoin="round" textLength="103.19" lengthAdjust="spacingAndGlyphs">SPRĘŻYNY</text>
<text x="221.64" y="453.54" font-size="12.471" font-weight="normal" fill="#000" stroke="#000" stroke-width="0.42" stroke-linejoin="round" textLength="78.78" lengthAdjust="spacingAndGlyphs">WYSOKIEJ</text>
<text x="196.72" y="472.59" font-size="12.471" font-weight="normal" fill="#000" stroke="#000" stroke-width="0.42" stroke-linejoin="round" textLength="126.60" lengthAdjust="spacingAndGlyphs">JAKOŚCI PIANKA</text>
</g></svg></body></html>
